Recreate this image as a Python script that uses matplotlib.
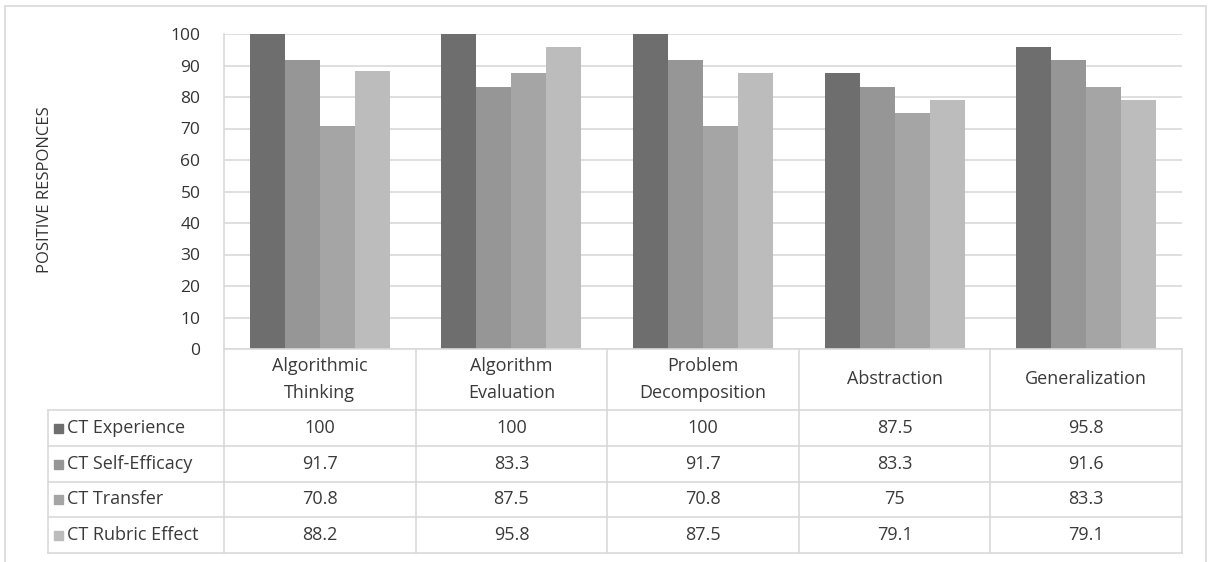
import numpy as np
import matplotlib
matplotlib.use("Agg")
import matplotlib.pyplot as plt
from matplotlib.patches import Rectangle

# Dados
categorias = ["Algorithmic\nThinking", "Algorithm\nEvaluation", "Problem\nDecomposition",
              "Abstraction", "Generalization"]
series = ["CT Experience", "CT Self-Efficacy", "CT Transfer", "CT Rubric Effect"]
ct_experience = [100, 100, 100, 87.5, 95.8]
ct_self_efficacy = [91.7, 83.3, 91.7, 83.3, 91.6]
ct_transfer = [70.8, 87.5, 70.8, 75, 83.3]
ct_rubric = [88.2, 95.8, 87.5, 79.1, 79.1]
rotulos_tabela = [["100", "100", "100", "87.5", "95.8"],
                  ["91.7", "83.3", "91.7", "83.3", "91.6"],
                  ["70.8", "87.5", "70.8", "75", "83.3"],
                  ["88.2", "95.8", "87.5", "79.1", "79.1"]]
yticks = list(range(0, 101, 10))

valores = [ct_experience, ct_self_efficacy, ct_transfer, ct_rubric]
cores = ["#6e6e6e", "#969696", "#a5a5a5", "#bcbcbc"]
cor_linha = "#d9d9d9"
cor_texto = "#3a3a3a"

plt.rcParams['font.family'] = ['Open Sans', 'DejaVu Sans']

W, H = 1209, 562
fig = plt.figure(figsize=(W / 100, H / 100), dpi=100)

# conversao de pixels (origem no topo) para coordenadas da figura
def fx(x):
    return x / W

def fy(y):
    return 1 - y / H

# moldura externa (sem borda inferior visivel)
fig.patches.append(Rectangle((fx(5), fy(570)), fx(1206) - fx(5), fy(6) - fy(570),
                             transform=fig.transFigure, fill=False,
                             edgecolor=cor_linha, linewidth=1.2, clip_on=False))

x0, x1 = 224, 1182
ytop, ybot = 34, 349
ax = fig.add_axes([fx(x0), fy(ybot), fx(x1) - fx(x0), fy(ytop) - fy(ybot)])

n = len(categorias)
x = np.arange(n)
largura = 0.73 / len(series)
for i, (vals, cor) in enumerate(zip(valores, cores)):
    desloc = (i - 1.5) * largura
    ax.bar(x + desloc, vals, largura, color=cor, zorder=3, edgecolor='none')

ax.set_xlim(-0.5, n - 0.5)
ax.set_ylim(0, 100)
ax.set_yticks(yticks)
ax.set_xticks([])
ax.yaxis.grid(True, color=cor_linha, linewidth=1.2, zorder=0)
ax.tick_params(axis='y', length=0, pad=17, labelsize=12.5, labelcolor='#333333')
for lado in ['top', 'right', 'bottom']:
    ax.spines[lado].set_visible(False)
ax.spines['left'].set_color(cor_linha)
ax.spines['left'].set_linewidth(1.2)

fig.text(fx(45), fy(190), "POSITIVE RESPONCES", rotation=90, ha='center', va='center',
         fontsize=12, color='#333333')

# tabela de dados
xt = 48
linhas_y = [349, 410, 446, 482, 517, 553]
larg_cat = (x1 - x0) / n
fs = 13

def hline(y, xa, xb):
    fig.add_artist(plt.Line2D([fx(xa), fx(xb)], [fy(y), fy(y)], color=cor_linha, linewidth=1.2))

def vline(x_, ya, yb):
    fig.add_artist(plt.Line2D([fx(x_), fx(x_)], [fy(ya), fy(yb)], color=cor_linha, linewidth=1.2))

hline(linhas_y[0], x0, x1)
for y in linhas_y[1:]:
    hline(y, xt, x1)
vline(xt, linhas_y[1], linhas_y[-1])
vline(x0, linhas_y[0], linhas_y[-1])
for j in range(1, n + 1):
    vline(x0 + j * larg_cat, linhas_y[0], linhas_y[-1])

for j, cat in enumerate(categorias):
    cx = x0 + (j + 0.5) * larg_cat
    cy = (linhas_y[0] + linhas_y[1]) / 2
    fig.text(fx(cx), fy(cy), cat, ha='center', va='center', fontsize=fs,
             color=cor_texto, linespacing=1.6)

for i, nome in enumerate(series):
    cy = (linhas_y[i + 1] + linhas_y[i + 2]) / 2
    fig.patches.append(Rectangle((fx(54), fy(cy + 4.5)), fx(9), fy(0) - fy(9),
                                 transform=fig.transFigure, color=cores[i]))
    fig.text(fx(67), fy(cy), nome, ha='left', va='center', fontsize=fs, color=cor_texto)
    for j in range(n):
        cx = x0 + (j + 0.5) * larg_cat
        fig.text(fx(cx), fy(cy), rotulos_tabela[i][j], ha='center', va='center',
                 fontsize=fs, color=cor_texto)

fig.savefig("out.png", dpi=100)
